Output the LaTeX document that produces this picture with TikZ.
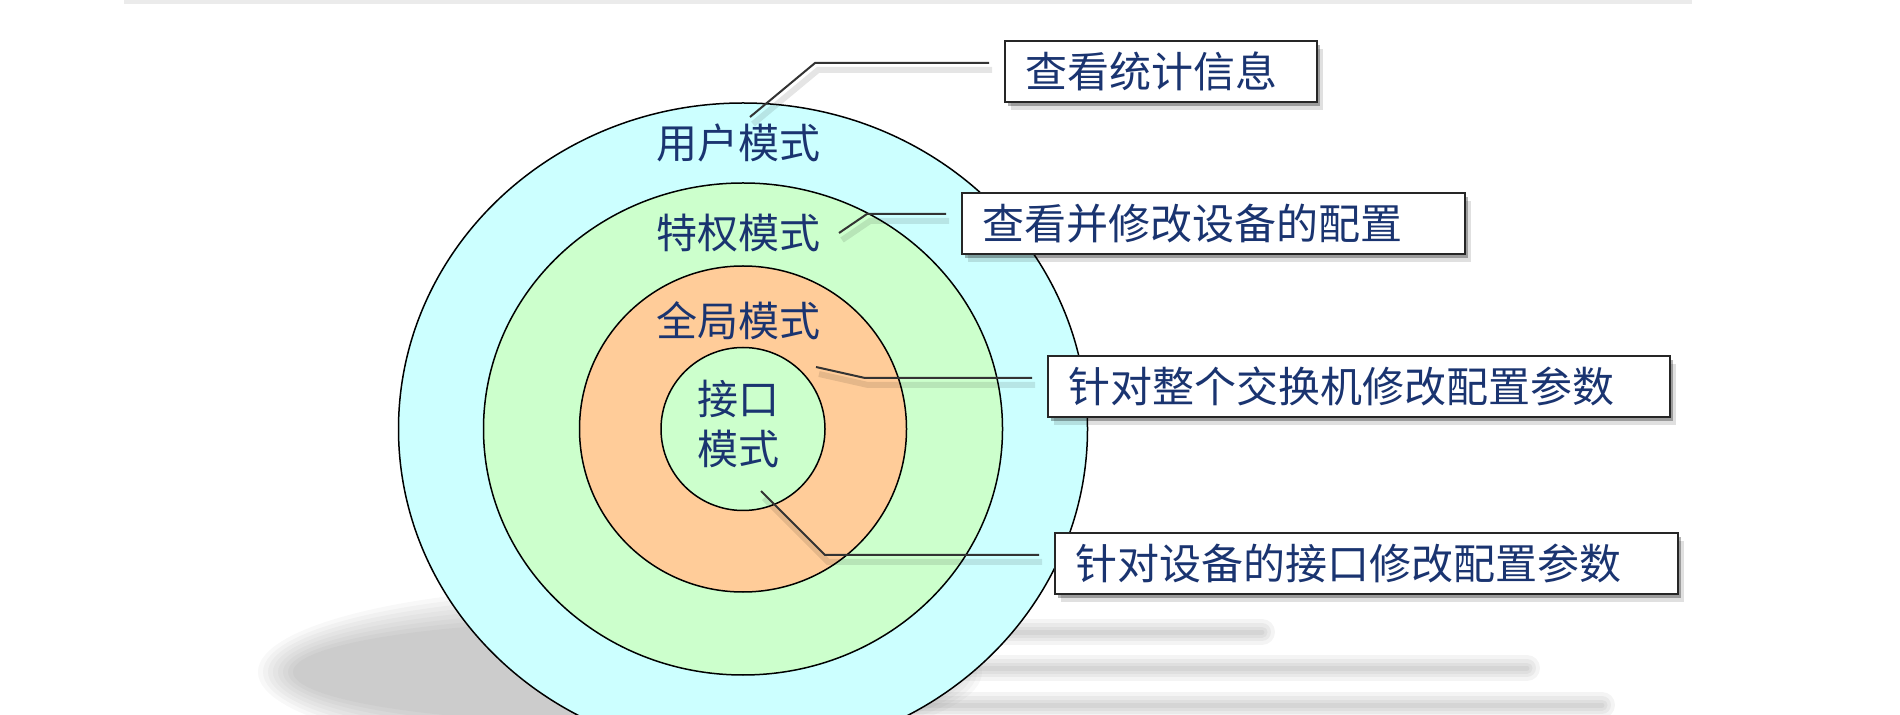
\documentclass[tikz,border=0pt]{standalone}
\usepackage{fontspec}
\newfontfamily\cjk{Noto Sans CJK SC}
\usetikzlibrary{shadows}
\definecolor{usercyan}{HTML}{CCFFFF}
\definecolor{privgreen}{HTML}{CCFFCC}
\definecolor{globorange}{HTML}{FFCC99}
\definecolor{modenavy}{HTML}{1A3470}
\definecolor{topgray}{HTML}{EBEBEB}
\tikzset{
	ring/.style={draw=black, line width=0.75pt},
	modelabel/.style={text=modenavy, font=\cjk\fontsize{20.5pt}{25.25pt}\selectfont, align=center, inner sep=0pt},
	callout/.style={draw=black!85, line width=0.9pt, fill=white, anchor=north west, align=left,
		inner xsep=10.5pt, inner ysep=0pt, minimum height=30.5pt, text=modenavy,
		font=\cjk\fontsize{21pt}{25pt}\selectfont,
		drop shadow={shadow xshift=1.5pt, shadow yshift=-2pt, opacity=.3, fill=black},
		drop shadow={shadow xshift=3pt, shadow yshift=-4pt, opacity=.12, fill=black}},
	leader/.style={draw=black!80, line width=1pt, shorten >=7.5pt,
		preaction={draw=black, opacity=.1, line width=3pt, transform canvas={shift={(1.5pt,-3.5pt)}}}},
}
\begin{document}
\begin{tikzpicture}[x=0.5pt, y=-0.5pt]
	\clip (0,0) rectangle (1900,715);
	% Background, floor shadow and rings:
	\fill[topgray] (124,0) rectangle (1692,4);
	\foreach \k in {0,...,7}
		\fill[black, opacity=0.028] (620,672) ellipse [x radius=181pt-2.5pt*\k, y radius=43pt-2.5pt*\k];
	\foreach \yy/\xe in {632/1262, 668/1527, 705/1602}
		\foreach \w in {26,18,11,5}
			\draw[black, opacity=0.045, line width=0.5pt*\w, line cap=round] (800,\yy) -- (\xe,\yy);
	\draw[ring, fill=usercyan] (743,429) ellipse [x radius=172.25pt, y radius=163pt];
	\draw[ring, fill=privgreen] (743,429) ellipse [x radius=129.75pt, y radius=123pt];
	\draw[ring, fill=globorange] (743,429) ellipse [x radius=81.75pt, y radius=81.5pt];
	\draw[ring, fill=privgreen] (743,429) ellipse [x radius=41pt, y radius=40.75pt];
	\node[modelabel] (user) at (738,143) {用户模式};
	\node[modelabel] (priv) at (738,233) {特权模式};
	\node[modelabel] (glob) at (738,321) {全局模式};
	\node[modelabel] (intf) at (738,424) {接口\\模式};
	% Callouts and leaders:
	\node[callout, text width=135pt] (stat) at (1004,40) {查看统计信息};
	\node[callout, text width=230.5pt] (conf) at (961,192) {查看并修改设备的配置};
	\node[callout, text width=290pt] (swit) at (1047,355) {针对整个交换机修改配置参数};
	\node[callout, text width=290.5pt] (port) at (1054,532) {针对设备的接口修改配置参数};
	\coordinate (p1) at (750,117); \coordinate (k1) at (815,63);
	\coordinate (p2) at (839,233); \coordinate (k2) at (867,214);
	\coordinate (p3) at (816,367); \coordinate (k3) at (865,378);
	\coordinate (p4) at (761,491); \coordinate (k4) at (825,555);
	\draw[leader] (p1) -- (k1) -- (k1 -| stat.west);
	\draw[leader] (p2) -- (k2) -- (k2 -| conf.west);
	\draw[leader] (p3) -- (k3) -- (k3 -| swit.west);
	\draw[leader] (p4) -- (k4) -- (k4 -| port.west);
\end{tikzpicture}
\end{document}
